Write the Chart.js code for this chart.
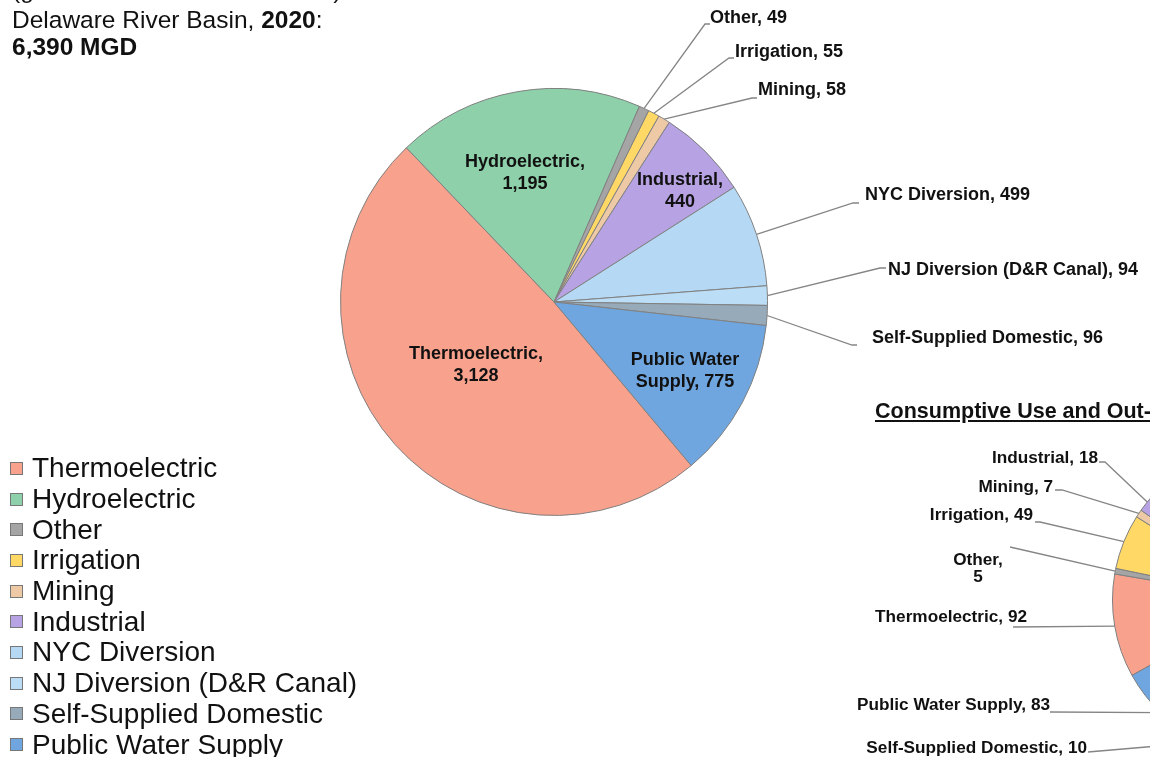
<!DOCTYPE html>
<html>
<head>
<meta charset="utf-8">
<script src="https://cdn.jsdelivr.net/npm/chart.js@4.4.1/dist/chart.umd.min.js"></script>
<style>
html,body{margin:0;padding:0;background:#fff;}
body{width:1150px;height:757px;overflow:hidden;position:relative;font-family:"Liberation Sans",Arial,sans-serif;color:#111;}
canvas{position:absolute;left:0;top:0;}
#title{position:absolute;left:12px;top:-24px;font-size:24.5px;line-height:27px;white-space:nowrap;}
#title .l1{display:block;margin-bottom:3px;}
#legend{position:absolute;left:10px;top:453px;font-size:28px;}
.item{display:flex;align-items:center;white-space:nowrap;height:30.7px;}
.sw{width:11px;height:11px;border:1px solid #777;margin-right:9px;flex:none;}
#title2{position:absolute;left:875px;top:399px;font-weight:bold;font-size:21.5px;text-decoration:underline;white-space:nowrap;}
</style>
</head>
<body>
<canvas id="main" width="1150" height="757"></canvas>
<canvas id="cons" width="1450" height="800"></canvas>
<div id="title"><span class="l1">(groundwater &amp; surface water) in the</span>Delaware River Basin, <b>2020</b>:<br><b>6,390 MGD</b></div>
<div id="legend"></div>
<div id="title2">Consumptive Use and Out-of-Basin Diversions</div>
<script>
// categories in slice order (clockwise from Thermoelectric)
const categories = ["Thermoelectric","Hydroelectric","Other","Irrigation","Mining","Industrial",
  "NYC Diversion","NJ Diversion (D&R Canal)","Self-Supplied Domestic","Public Water Supply"];
// total withdrawals 2020, MGD
const withdrawals = [3128,1195,49,55,58,440,499,94,96,775];
// consumptive use + out-of-basin diversions, MGD (diversion slices are off the crop: taken equal to withdrawals)
const consumptive = [92,0,5,49,7,18,499,94,10,83];
const colors = ["#F8A28E","#8ED0A9","#A5A5A5","#FFD866","#EEC9A5","#B7A2E3","#B5D8F4","#BBDDF5","#97AABA","#6FA6DF"];

const fmt = v => v.toLocaleString("en-US");

// html legend
document.getElementById("legend").innerHTML = categories.map((c,i)=>
  `<div class="item"><span class="sw" style="background:${colors[i]}"></span>${c.replace("&","&amp;")}</div>`).join("");

// labels + leader lines, leader ends at the slice's outer edge (mid angle)
function makeLabels(id, items, font, lh){
  return {
    id,
    afterDatasetsDraw(chart){
      const ctx = chart.ctx;
      const arcs = chart.getDatasetMeta(0).data;
      ctx.save();
      items.forEach(it => {
        const p = arcs[it.i].getProps(["x","y","startAngle","endAngle","outerRadius"], true);
        if(it.leader){
          const a = (p.startAngle + p.endAngle)/2;
          ctx.beginPath();
          ctx.strokeStyle = "#858585";
          ctx.lineWidth = 1.3;
          ctx.moveTo(it.leader[0][0], it.leader[0][1]);
          it.leader.slice(1).forEach(q => ctx.lineTo(q[0], q[1]));
          ctx.lineTo(p.x + Math.cos(a)*p.outerRadius, p.y + Math.sin(a)*p.outerRadius);
          ctx.stroke();
        }
        ctx.font = font;
        ctx.fillStyle = "#111";
        ctx.textAlign = it.align || "center";
        ctx.textBaseline = "middle";
        it.lines.forEach((t,k) => ctx.fillText(t, it.x, it.y + k*lh));
      });
      ctx.restore();
    }
  };
}

const W = withdrawals, C = consumptive, N = categories;
const mainItems = [
  {i:0, x:476, y:354, lines:[N[0]+",", fmt(W[0])]},
  {i:1, x:525, y:162, lines:[N[1]+",", fmt(W[1])]},
  {i:2, x:710, y:18, align:"left", lines:[N[2]+", "+fmt(W[2])], leader:[[710,24],[705,24]]},
  {i:3, x:735, y:52, align:"left", lines:[N[3]+", "+fmt(W[3])], leader:[[734,58],[729,58]]},
  {i:4, x:758, y:90, align:"left", lines:[N[4]+", "+fmt(W[4])], leader:[[757,98],[752,98]]},
  {i:5, x:680, y:180, lines:[N[5]+",", fmt(W[5])]},
  {i:6, x:865, y:195, align:"left", lines:[N[6]+", "+fmt(W[6])], leader:[[859,203],[853,203]]},
  {i:7, x:888, y:270, align:"left", lines:[N[7]+", "+fmt(W[7])], leader:[[886,268],[880,268]]},
  {i:8, x:872, y:338, align:"left", lines:[N[8]+", "+fmt(W[8])], leader:[[857,345],[852,345]]},
  {i:9, x:685, y:360, lines:["Public Water", "Supply, "+fmt(W[9])]}
];

const consItems = [
  {i:0, x:1027, y:617, align:"right", lines:[N[0]+", "+fmt(C[0])], leader:[[1013,627]]},
  {i:2, x:978, y:560, lines:[N[2]+",", fmt(C[2])], leader:[[1010,547]]},
  {i:3, x:1033, y:515, align:"right", lines:[N[3]+", "+fmt(C[3])], leader:[[1035,522],[1040,522]]},
  {i:4, x:1053, y:487, align:"right", lines:[N[4]+", "+fmt(C[4])], leader:[[1055,490],[1062,490]]},
  {i:5, x:1098, y:458, align:"right", lines:[N[5]+", "+fmt(C[5])], leader:[[1099,462],[1105,462]]},
  {i:8, x:1087, y:748, align:"right", lines:[N[8]+", "+fmt(C[8])], leader:[[1088,752]]},
  {i:9, x:1050, y:705, align:"right", lines:["Public Water Supply, "+fmt(C[9])], leader:[[1050,712]]}
];

const baseOpts = {
  responsive:false,
  animation:false,
  events:[],
  plugins:{legend:{display:false}, tooltip:{enabled:false}, title:{display:false}}
};

new Chart(document.getElementById("main"), {
  type:"pie",
  data:{labels:categories, datasets:[{data:withdrawals, backgroundColor:colors, borderColor:"#808080", borderWidth:1}]},
  options:{...baseOpts, rotation:140, layout:{padding:{left:340, right:382, top:88, bottom:241}}},
  plugins:[makeLabels("mainLabels", mainItems, "bold 18px 'Liberation Sans', Arial, sans-serif", 22)]
});

new Chart(document.getElementById("cons"), {
  type:"pie",
  data:{labels:categories, datasets:[{data:consumptive, backgroundColor:colors, borderColor:"#808080", borderWidth:1}]},
  options:{...baseOpts, rotation:241, layout:{padding:{left:1112, right:26, top:444, bottom:44}}},
  plugins:[makeLabels("consLabels", consItems, "bold 17.2px 'Liberation Sans', Arial, sans-serif", 17)]
});
</script>
</body>
</html>
